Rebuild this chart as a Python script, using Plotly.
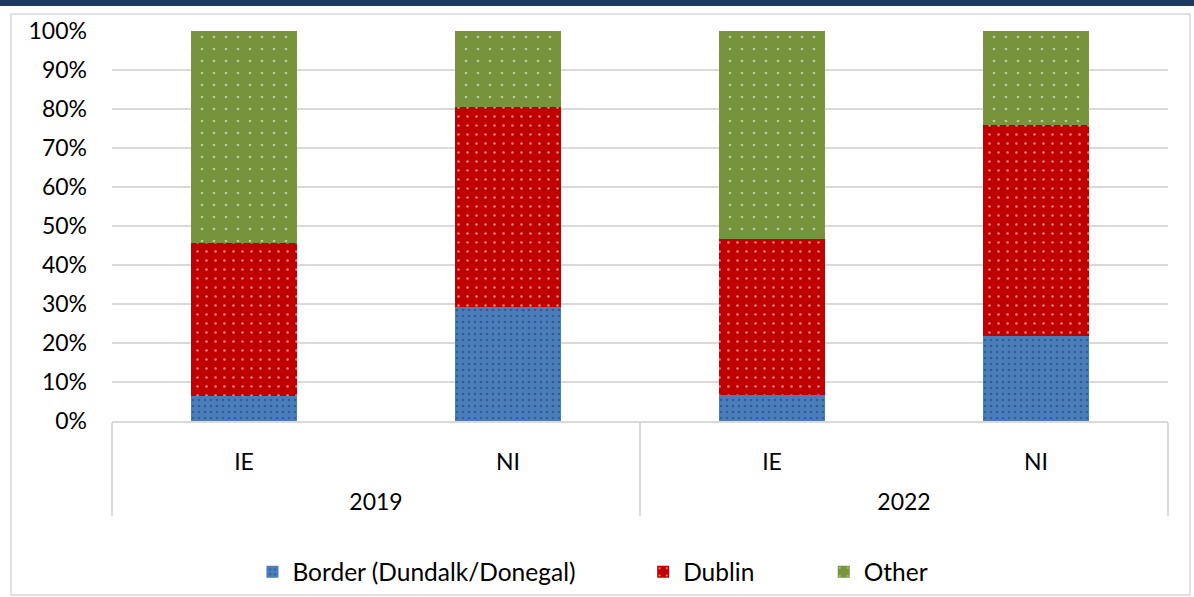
import plotly.graph_objects as go

years = ["2019", "2019", "2022", "2022"]
regions = ["IE", "NI", "IE", "NI"]
border = [6.4, 29.2, 6.7, 21.8]
dublin = [39.2, 51.3, 40.0, 54.1]
other = [54.4, 19.5, 53.3, 24.1]

series = [
    ("Border (Dundalk/Donegal)", border, "#4a7ebb", "#1f3864", 6, 0.16, "legend", 0.133),
    ("Dublin", dublin, "#c00000", "#ffffff", 9, 0.07, "legend2", 0.503),
    ("Other", other, "#77933c", "#ffffff", 12, 0.04, "legend3", 0.674),
]

year_labels = ["<br>" + y for y in years]

FONT = "Lato"
fig = go.Figure()
legends = {}
for name, vals, bg, fg, sz, sol, lg, lx in series:
    fig.add_trace(go.Bar(
        x=[year_labels, regions], y=vals, name=name, width=0.4, legend=lg,
        marker=dict(color=bg, line=dict(width=0),
                    pattern=dict(shape=".", fgcolor=fg, bgcolor=bg, size=sz, solidity=sol)),
    ))
    legends[lg] = dict(orientation="h", x=lx, xanchor="left", y=0.042, yref="container",
                       yanchor="middle", font=dict(size=24.5), bgcolor="rgba(0,0,0,0)")

fig.update_layout(
    barmode="stack",
    width=1194, height=597,
    margin=dict(l=112, r=26, t=31, b=176, autoexpand=False),
    paper_bgcolor="white", plot_bgcolor="white",
    font=dict(family=FONT, size=23, color="#000000"),
    showlegend=True,
    **legends,
)
fig.update_yaxes(range=[0, 100], tickvals=list(range(0, 101, 10)),
                 ticktext=[f"{v}%" for v in range(0, 101, 10)],
                 showgrid=True, gridcolor="#d9d9d9", gridwidth=1.5, automargin=False,
                 zeroline=False, showline=False, ticks="", ticklabelstandoff=24)
fig.update_xaxes(showline=True, linecolor="#d9d9d9", linewidth=1.5, automargin=False,
                 showdividers=True, dividercolor="#d9d9d9", dividerwidth=1.5,
                 ticks="", tickson="boundaries", ticklabelstandoff=20)

fig.add_shape(type="rect", xref="paper", yref="paper", x0=-0.0956, x1=1.0208,
              y0=-0.446, y1=1.0436, line=dict(color="#d9d9d9", width=1.5), layer="below")
fig.add_shape(type="rect", xref="paper", yref="paper", x0=-0.12, x1=1.05,
              y0=1.0641, y1=1.09, line=dict(width=0), fillcolor="#1f3864")

fig.write_html("out.html", config={"displayModeBar": False},
               post_script="document.body.style.margin='0';")
